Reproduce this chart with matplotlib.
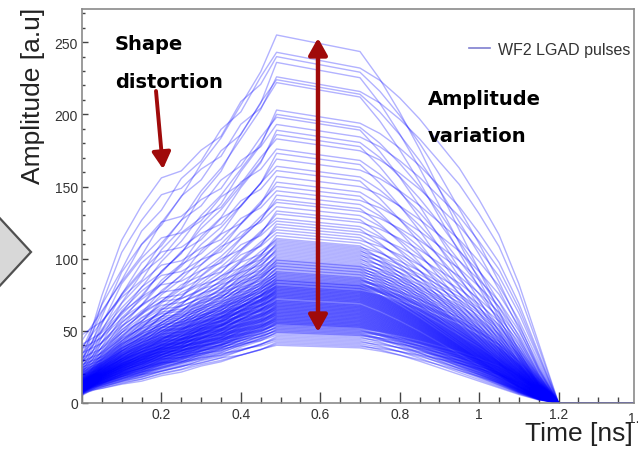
import matplotlib
matplotlib.use("Agg")
import matplotlib.pyplot as plt
from matplotlib.patches import Polygon
from matplotlib.lines import Line2D
from matplotlib.ticker import MultipleLocator
import numpy as np

# peak amplitudes of the pulses (t ~ 0.5)
amp_high = [255, 243, 240, 236, 226, 224, 222, 203, 200, 198, 193, 189, 186, 183,
            176, 173, 169, 164, 161, 157, 153]
amp_mid = [150, 147, 144, 141, 139, 136, 133, 131, 128, 126, 124, 122, 120, 118,
           116, 114, 113, 112, 111, 110, 109, 108, 107, 106, 105, 104, 103, 102, 101, 100]
amp_low = [99, 99, 98, 97, 97, 96, 95, 95, 94, 93, 93, 92, 91, 91, 90, 90, 89, 89,
           88, 88, 87, 87, 86, 86, 85, 85, 85, 84, 84, 83, 83, 83, 82, 82, 81, 81, 81,
           80, 80, 80, 79, 79, 79, 78, 78, 78, 77, 77, 77, 76, 76, 76, 75, 75, 75, 74,
           74, 74, 73, 73, 73, 72, 72, 71, 71, 71, 70, 70, 70, 69, 69, 69, 68, 68, 68,
           67, 67, 67, 66, 66, 66, 65, 65, 65, 64, 64, 64, 63, 63, 63, 62, 62, 62, 61,
           61, 61, 60, 60, 60, 59, 59, 59, 58, 58, 58, 57, 57, 57, 56, 56, 56, 55, 55,
           55, 54, 54, 53, 53, 52, 52, 51, 51, 50, 50, 49, 49, 48, 47, 46, 45, 44, 43,
           42, 41, 40]

# normalised pulse shapes (fraction of peak), rising edge and trailing edge
t_rise = [0.0, 0.05, 0.1, 0.15, 0.2, 0.25, 0.3, 0.35, 0.4, 0.45, 0.49]
rise_shapes = [
    [0.17, 0.25, 0.33, 0.40, 0.49, 0.56, 0.65, 0.72, 0.81, 0.90, 1.0],
    [0.15, 0.28, 0.38, 0.49, 0.55, 0.64, 0.69, 0.78, 0.83, 0.93, 1.0],
    [0.12, 0.31, 0.47, 0.57, 0.65, 0.67, 0.73, 0.77, 0.87, 0.92, 1.0],
    [0.20, 0.24, 0.31, 0.36, 0.45, 0.51, 0.61, 0.68, 0.79, 0.88, 1.0],
]
t_fall = [0.7, 0.75, 0.8, 0.85, 0.9, 0.95, 1.0, 1.05, 1.1, 1.15, 1.2, 1.4]
fall_shapes = [
    [0.955, 0.88, 0.79, 0.69, 0.58, 0.47, 0.36, 0.25, 0.14, 0.05, 0.0, 0.0],
    [0.955, 0.92, 0.87, 0.81, 0.74, 0.67, 0.58, 0.48, 0.34, 0.17, 0.0, 0.0],
    [0.955, 0.90, 0.83, 0.75, 0.66, 0.56, 0.46, 0.35, 0.23, 0.10, 0.0, 0.0],
]

amplitudes = amp_high + amp_mid + amp_low
times = np.array(t_rise + t_fall)

fig = plt.figure(figsize=(6.38, 4.52), dpi=100)
ax = fig.add_axes([82 / 638, 48 / 452, 552 / 638, 394 / 452])

for i, a in enumerate(amplitudes):
    shape = np.array(rise_shapes[i % 4] + fall_shapes[i % 3])
    ax.plot(times, a * shape, color='#0000ff', alpha=0.3, lw=1.0)

ax.set_xlim(0, 1.39)
ax.set_ylim(0, 273)

# ROOT-like axes
for s in ax.spines.values():
    s.set_color('#8a8a8a')
    s.set_linewidth(1.2)
    s.set_zorder(5)
ax.xaxis.set_major_locator(MultipleLocator(0.2))
ax.xaxis.set_minor_locator(MultipleLocator(0.05))
ax.yaxis.set_major_locator(MultipleLocator(50))
ax.yaxis.set_minor_locator(MultipleLocator(10))
ax.tick_params(axis='x', which='major', direction='in', length=8, width=1, color='#444444', pad=3)
ax.tick_params(axis='x', which='minor', direction='in', length=4.3, width=1, color='#444444')
ax.tick_params(axis='y', which='major', direction='in', length=4.5, width=1, color='#444444', pad=3)
ax.tick_params(axis='y', which='minor', direction='in', length=2.4, width=1, color='#444444')
ax.set_xticks([0, 0.2, 0.4, 0.6, 0.8, 1.0, 1.2])
ax.set_xticklabels(['', '0.2', '0.4', '0.6', '0.8', '1', '1.2'])
for lab in ax.get_xticklabels() + ax.get_yticklabels():
    lab.set_fontfamily('Liberation Sans')
    lab.set_fontsize(10)
    lab.set_color('#333333')
# the 1.4 label sits on the right edge and is cut by the picture border, as in the source
ax.text(1.4, -0.02, '1.4', transform=ax.get_xaxis_transform(), ha='center', va='top',
        fontsize=10, family='Liberation Sans', color='#333333', clip_on=False)

fig.text(33 / 638, 1 - 8 / 452, 'Amplitude [a.u]', rotation=90, ha='center', va='top',
         fontsize=19, family='Liberation Sans', color='#222222')
fig.text(633 / 638, 1 - 434 / 452, 'Time [ns]', ha='right', va='center',
         fontsize=19, family='Liberation Sans', color='#222222')

proxy = Line2D([], [], color='#7f7fd0', lw=1.2)
ax.legend([proxy], ['WF2 LGAD pulses'], loc='center right', frameon=False,
          bbox_to_anchor=(630 / 638, 1 - 50 / 452), bbox_transform=fig.transFigure,
          borderaxespad=0, borderpad=0, handlelength=1.3, handletextpad=0.5,
          prop={'family': 'Liberation Sans', 'size': 11.5}, labelcolor='#333333')

# annotations
bold = dict(family='DejaVu Sans', weight='bold', fontsize=14, color='black', va='baseline')
fig.text(115 / 638, 1 - 50 / 452, 'Shape', **bold)
fig.text(115 / 638, 1 - 88 / 452, 'distortion', **bold)
fig.text(428 / 638, 1 - 105 / 452, 'Amplitude', **bold)
fig.text(428 / 638, 1 - 142 / 452, 'variation', **bold)

red = '#a00a0a'
ax.annotate('', xy=(318, 452 - 39), xytext=(318, 452 - 333), xycoords='figure pixels',
            textcoords='figure pixels',
            arrowprops=dict(arrowstyle='<|-|>,head_length=0.5,head_width=0.28', color=red,
                            lw=3.2, mutation_scale=20, shrinkA=0, shrinkB=0))
ax.annotate('', xy=(163, 452 - 170), xytext=(156, 452 - 92), xycoords='figure pixels',
            textcoords='figure pixels',
            arrowprops=dict(arrowstyle='-|>,head_length=0.5,head_width=0.28', color=red,
                            lw=2.8, mutation_scale=20, shrinkA=0, shrinkB=0))

# slide chevron on the left
pts = [(-5, 214), (31, 253), (-5, 292)]
chev = Polygon([(x / 638, 1 - y / 452) for x, y in pts], closed=True, transform=fig.transFigure,
               facecolor='#d8d8d8', edgecolor='#505050', lw=1.6)
fig.patches.append(chev)

fig.savefig('out.png', dpi=100)
